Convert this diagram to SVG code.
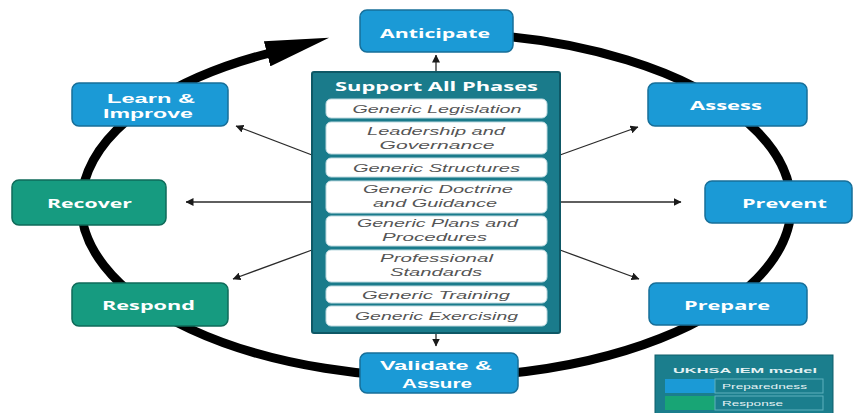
<svg xmlns="http://www.w3.org/2000/svg" width="854" height="413" viewBox="0 0 854 413">
<defs>
<style>
.blue{fill:#1b9ad6;stroke:#176f99;stroke-width:1.5}
.green{fill:#169b80;stroke:#0f6b59;stroke-width:1.5}
.lbl{font-family:"Open Sans","Liberation Sans",sans-serif;font-weight:700;font-size:13px;fill:#ffffff;text-anchor:middle}
.lbl2{font-family:"Liberation Sans",Arial,sans-serif;font-weight:700;font-size:12.5px;fill:#ffffff;text-anchor:middle}
.row{fill:#ffffff;stroke:#bcd9df;stroke-width:1}
.rtxt{font-family:"Liberation Sans",Arial,sans-serif;font-style:italic;font-size:11.5px;fill:#555555;text-anchor:middle}
.thin{stroke:#2a2a2a;stroke-width:1.3;fill:none;marker-end:url(#ah)}
.ltxt{font-family:"Liberation Sans",Arial,sans-serif;font-size:8px;fill:#e6f2f4}
</style>
<marker id="ah" markerUnits="userSpaceOnUse" markerWidth="8" markerHeight="8" viewBox="0 0 8 8" refX="7.5" refY="4" orient="auto"><path d="M0,0 L8,4 L0,8 z" fill="#1a1a1a"/></marker>
<marker id="big" markerUnits="userSpaceOnUse" markerWidth="64" markerHeight="26" viewBox="0 0 64 26" refX="3" refY="13" orient="auto"><path d="M0,0 L64,13 L0,26 z" fill="#000000"/></marker>
</defs>
<rect width="854" height="413" fill="#ffffff"/>
<g id="connectors">
<path id="cycle" d="M480,34.3 A355 172 0 1 1 270,53" fill="none" stroke="#000000" stroke-width="9" marker-end="url(#big)"/>
<line class="thin" x1="436" y1="72" x2="436" y2="55"/>
<line class="thin" x1="436" y1="333" x2="436" y2="346"/>
<line class="thin" x1="312" y1="202" x2="186" y2="202"/>
<line class="thin" x1="560" y1="202" x2="681" y2="202"/>
<line class="thin" x1="312" y1="155" x2="236" y2="126"/>
<line class="thin" x1="560" y1="155" x2="638" y2="127"/>
<line class="thin" x1="312" y1="250" x2="233" y2="279"/>
<line class="thin" x1="560" y1="250" x2="639" y2="279"/>
</g>
<g id="support">
<rect x="312" y="72" width="248" height="261" rx="2" fill="#1a7b8b" stroke="#0e5866" stroke-width="2"/>
<text x="436.5" y="90.5" class="lbl" textLength="203" lengthAdjust="spacingAndGlyphs">Support All Phases</text>
<rect class="row" x="326" y="99" width="221" height="19" rx="5"/>
<text class="rtxt" x="437" y="113" textLength="169" lengthAdjust="spacingAndGlyphs">Generic Legislation</text>
<rect class="row" x="326" y="122" width="221" height="32" rx="5"/>
<text class="rtxt" x="436" y="135" textLength="138" lengthAdjust="spacingAndGlyphs">Leadership and</text>
<text class="rtxt" x="437" y="148.5" textLength="115" lengthAdjust="spacingAndGlyphs">Governance</text>
<rect class="row" x="326" y="158" width="221" height="19" rx="5"/>
<text class="rtxt" x="436.5" y="171.5" textLength="167" lengthAdjust="spacingAndGlyphs">Generic Structures</text>
<rect class="row" x="326" y="181" width="221" height="32" rx="5"/>
<text class="rtxt" x="438" y="192.5" textLength="150" lengthAdjust="spacingAndGlyphs">Generic Doctrine</text>
<text class="rtxt" x="435" y="207" textLength="124" lengthAdjust="spacingAndGlyphs">and Guidance</text>
<rect class="row" x="326" y="216" width="221" height="30" rx="5"/>
<text class="rtxt" x="437.5" y="227" textLength="161" lengthAdjust="spacingAndGlyphs">Generic Plans and</text>
<text class="rtxt" x="434.5" y="241" textLength="105" lengthAdjust="spacingAndGlyphs">Procedures</text>
<rect class="row" x="326" y="250" width="221" height="32" rx="5"/>
<text class="rtxt" x="436.5" y="262" textLength="113" lengthAdjust="spacingAndGlyphs">Professional</text>
<text class="rtxt" x="436" y="276" textLength="92" lengthAdjust="spacingAndGlyphs">Standards</text>
<rect class="row" x="326" y="286" width="221" height="17" rx="5"/>
<text class="rtxt" x="436" y="298.5" textLength="148" lengthAdjust="spacingAndGlyphs">Generic Training</text>
<rect class="row" x="326" y="306" width="221" height="20" rx="5"/>
<text class="rtxt" x="436.5" y="320" textLength="163" lengthAdjust="spacingAndGlyphs">Generic Exercising</text>
</g>
<g id="anticipate">
<rect class="blue" x="360" y="10" width="153" height="42" rx="7"/>
<text class="lbl" x="435" y="37.5" textLength="110" lengthAdjust="spacingAndGlyphs">Anticipate</text>
</g>
<g id="assess">
<rect class="blue" x="648" y="83" width="159" height="43" rx="7"/>
<text class="lbl" x="726" y="109.5" textLength="72" lengthAdjust="spacingAndGlyphs">Assess</text>
</g>
<g id="learn">
<rect class="blue" x="72" y="83" width="156" height="43" rx="7"/>
<text class="lbl2" x="151" y="102.5" textLength="88" lengthAdjust="spacingAndGlyphs">Learn &amp;</text>
<text class="lbl2" x="148" y="118" textLength="90" lengthAdjust="spacingAndGlyphs">Improve</text>
</g>
<g id="recover">
<rect class="green" x="12" y="180" width="154" height="45" rx="7"/>
<text class="lbl" x="89.5" y="207.5" textLength="85" lengthAdjust="spacingAndGlyphs">Recover</text>
</g>
<g id="prevent">
<rect class="blue" x="705" y="181" width="147" height="42" rx="7"/>
<text class="lbl" x="784.5" y="207.5" textLength="85" lengthAdjust="spacingAndGlyphs">Prevent</text>
</g>
<g id="respond">
<rect class="green" x="72" y="283" width="156" height="43" rx="7"/>
<text class="lbl" x="148.5" y="309.5" textLength="93" lengthAdjust="spacingAndGlyphs">Respond</text>
</g>
<g id="prepare">
<rect class="blue" x="649" y="283" width="158" height="42" rx="7"/>
<text class="lbl" x="727" y="309.5" textLength="86" lengthAdjust="spacingAndGlyphs">Prepare</text>
</g>
<g id="validate">
<rect class="blue" x="360" y="353" width="158" height="40" rx="7"/>
<text class="lbl2" x="436" y="369.5" textLength="112" lengthAdjust="spacingAndGlyphs">Validate &amp;</text>
<text class="lbl2" x="437" y="387.5" textLength="70" lengthAdjust="spacingAndGlyphs">Assure</text>
</g>
<g id="legend">
<rect x="655" y="355" width="178" height="62" fill="#1b7e8d" stroke="#0f5e6b" stroke-width="1"/>
<text class="ltxt" x="745" y="373" text-anchor="middle" font-weight="700" font-size="9" textLength="144" lengthAdjust="spacingAndGlyphs">UKHSA IEM model</text>
<rect x="665" y="379" width="50" height="14" fill="#1b9ad6"/>
<rect x="715" y="379" width="108" height="14" fill="none" stroke="#5fb0bd" stroke-width="1"/>
<text class="ltxt" x="722" y="389" textLength="85" lengthAdjust="spacingAndGlyphs">Preparedness</text>
<rect x="665" y="396" width="50" height="14" fill="#18a575"/>
<rect x="715" y="396" width="108" height="14" fill="none" stroke="#5fb0bd" stroke-width="1"/>
<text class="ltxt" x="722" y="406" textLength="61" lengthAdjust="spacingAndGlyphs">Response</text>
</g>
</svg>
